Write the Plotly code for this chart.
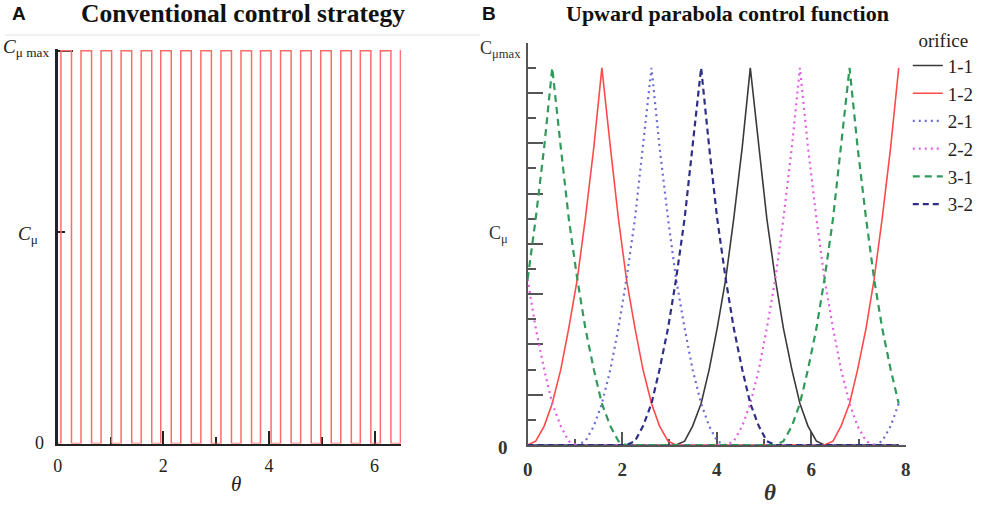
import plotly.graph_objects as go

W, H = 989, 506

# ---- panel A: conventional on/off control (pulse edges)
pulse_rise = [0.06, 0.44, 0.82, 1.20, 1.58, 1.95, 2.33, 2.71, 3.09, 3.47,
              3.84, 4.22, 4.60, 4.98, 5.36, 5.73, 6.11, 6.49]
pulse_fall = [0.26, 0.64, 1.02, 1.40, 1.78, 2.15, 2.53, 2.91, 3.29, 3.67,
              4.04, 4.42, 4.80, 5.18, 5.56, 5.93, 6.31]
pulse_on = 1.0
cmu_level = 0.538  # where the plain C_mu tick sits on the A axis

# ---- panel B: upward parabola control functions
theta = [0.00, 0.17, 0.35, 0.52, 0.70, 0.87, 1.05, 1.22, 1.40, 1.57,
         1.75, 1.92, 2.09, 2.27, 2.44, 2.62, 2.79, 2.97, 3.14, 3.32,
         3.49, 3.67, 3.84, 4.01, 4.19, 4.36, 4.54, 4.71, 4.89, 5.06,
         5.24, 5.41, 5.59, 5.76, 5.93, 6.11, 6.28, 6.46, 6.63, 6.81,
         6.98, 7.16, 7.33, 7.50, 7.68, 7.85]

orifice_1_1 = [0] * 18 + [0, .01, .05, .11, .20, .31, .44, .60, .79, 1.00,
                          .79, .60, .44, .31, .20, .11, .05, .01, 0] + [0] * 9
orifice_1_2 = [0, .01, .05, .11, .20, .31, .44, .60, .79, 1.00,
               .79, .60, .44, .31, .20, .11, .05, .01, 0] + [0] * 17 + \
              [0, .01, .05, .11, .20, .31, .44, .60, .79, 1.00]
orifice_2_1 = [0] * 6 + [0, .01, .05, .11, .20, .31, .44, .60, .79, 1.00,
                         .79, .60, .44, .31, .20, .11, .05, .01, 0] + \
              [0] * 17 + [0, .01, .05, .11]
orifice_2_2 = [.44, .31, .20, .11, .05, .01, 0] + [0] * 17 + \
              [0, .01, .05, .11, .20, .31, .44, .60, .79, 1.00,
               .79, .60, .44, .31, .20, .11, .05, .01, 0] + [0] * 3
orifice_3_1 = [.44, .60, .79, 1.00, .79, .60, .44, .31, .20, .11, .05, .01, 0] + \
              [0] * 17 + [0, .01, .05, .11, .20, .31, .44, .60, .79, 1.00,
                          .79, .60, .44, .31, .20, .11]
orifice_3_2 = [0] * 12 + [0, .01, .05, .11, .20, .31, .44, .60, .79, 1.00,
                          .79, .60, .44, .31, .20, .11, .05, .01, 0] + [0] * 15

series_names = ['1-1', '1-2', '2-1', '2-2', '3-1', '3-2']
series_values = [orifice_1_1, orifice_1_2, orifice_2_1, orifice_2_2, orifice_3_1, orifice_3_2]
series_colors = ['#3a3a3a', '#ff4a4a', '#6b6bd6', '#e35ee3', '#2f9a5a', '#2e2e86']
series_dash = ['solid', 'solid', '2px,4px', '2px,4px', '7px,5px', '6px,4px']
series_width = [1.6, 1.6, 2.2, 2.2, 2.2, 2.2]

SERIF = 'Liberation Serif'
SANS = 'Liberation Sans'


def px_x(x):
    return x / W


def px_y(y):
    return 1 - y / H


fig = go.Figure()

# square wave for panel A
sx, sy = [0.0], [0.0]
for i, r in enumerate(pulse_rise):
    sx += [r, r]
    sy += [0.0, pulse_on]
    if i < len(pulse_fall):
        sx += [pulse_fall[i], pulse_fall[i]]
        sy += [pulse_on, 0.0]
    else:
        sx.append(6.6)
        sy.append(pulse_on)

fig.add_trace(go.Scatter(x=sx, y=sy, mode='lines', showlegend=False,
                         line=dict(color='#ff6b6b', width=1.5),
                         xaxis='x', yaxis='y'))

for name, vals, col, dash, lw in zip(series_names, series_values, series_colors,
                                     series_dash, series_width):
    fig.add_trace(go.Scatter(x=theta, y=vals, mode='lines', name=name,
                             line=dict(color=col, dash=dash, width=lw),
                             xaxis='x2', yaxis='y2'))

axis_common = dict(showgrid=False, zeroline=False, showline=True, ticks='inside',
                   layer='below traces', fixedrange=True)

fig.update_layout(
    width=W, height=H,
    margin=dict(l=0, r=0, t=0, b=0),
    paper_bgcolor='white', plot_bgcolor='white',
    xaxis=dict(axis_common, domain=[px_x(53.3), px_x(400)], range=[0, 6.5],
               linecolor='#222', linewidth=2,
               tickvals=[0, 2, 4, 6], ticklen=13, tickwidth=2, tickcolor='#222',
               minor=dict(tickmode='array', tickvals=[1, 3, 5], ticks='inside',
                          ticklen=7, tickwidth=2, tickcolor='#222'),
               tickfont=dict(family=SERIF, size=18, color='#222'),
               ticklabelstandoff=5, anchor='y'),
    yaxis=dict(axis_common, domain=[px_y(443.5), px_y(48.7)], range=[0, 1.005],
               linecolor='#222', linewidth=2.5,
               tickvals=[0, 1], ticklen=15, tickwidth=2, tickcolor='#222',
               showticklabels=False,
               minor=dict(tickmode='array', tickvals=[cmu_level], ticks='inside',
                          ticklen=7, tickwidth=2, tickcolor='#222'),
               anchor='x'),
    xaxis2=dict(axis_common, domain=[px_x(528), px_x(910)], range=[0, 8],
                linecolor='#555', linewidth=2,
                tickvals=[0, 2, 4, 6, 8], ticklen=13, tickwidth=2, tickcolor='#555',
                minor=dict(tickmode='array', tickvals=[1, 3, 5, 7], ticks='inside',
                           ticklen=6, tickwidth=2, tickcolor='#555'),
                tickfont=dict(family=SERIF, size=19, color='#333', weight='bold'),
                ticklabelstandoff=6, anchor='y2'),
    yaxis2=dict(axis_common, domain=[px_y(445), px_y(42.7)], range=[0, 16 / 15],
                linecolor='#555', linewidth=2,
                tickvals=[k / 15 for k in range(0, 17, 2)], ticklen=15, tickwidth=2,
                tickcolor='#555', showticklabels=False,
                minor=dict(tickmode='array', tickvals=[k / 15 for k in range(1, 17, 2)],
                           ticks='inside', ticklen=8, tickwidth=2, tickcolor='#555'),
                anchor='x2'),
    legend=dict(x=px_x(912), y=px_y(22), xanchor='left', yanchor='top',
                bgcolor='rgba(0,0,0,0)',
                font=dict(family=SERIF, size=19, color='#222'),
                title=dict(text='orifice', side='top center',
                           font=dict(family=SERIF, size=19, color='#222'))),
    shapes=[dict(type='line', xref='paper', yref='paper',
                 x0=0, x1=px_x(480), y0=px_y(35), y1=px_y(35),
                 line=dict(color='#e2e2e2', width=1))],
)

notes = [
    # (text, x px, y px, xanchor, font)
    ('A', 5, 14, 'left', dict(family=SANS, size=19, color='#111', weight='bold')),
    ('B', 480, 14, 'left', dict(family=SANS, size=19, color='#111', weight='bold')),
    ('Conventional control strategy', 240, 14, 'center',
     dict(family=SERIF, size=25.5, color='#111', weight='bold')),
    ('Upward parabola control function', 730, 14, 'center',
     dict(family=SERIF, size=22, color='#111', weight='bold')),
    ('<i>θ</i>', 233, 484, 'center', dict(family=SERIF, size=21, color='#222')),
    ('<i>θ</i>', 773, 492, 'center', dict(family=SERIF, size=23, color='#333', weight='bold')),
    ('<i>C</i><sub>μ max</sub>', 46, 48, 'right', dict(family=SERIF, size=19, color='#222')),
    ('<i>C</i><sub>μ</sub>', 35, 235, 'right', dict(family=SERIF, size=19, color='#222')),
    ('0', 41, 443, 'right', dict(family=SERIF, size=18, color='#222')),
    ('C<sub>μmax</sub>', 523, 50, 'right', dict(family=SERIF, size=18, color='#333')),
    ('C<sub>μ</sub>', 510, 234, 'right', dict(family=SERIF, size=18, color='#333')),
    ('0', 510, 447, 'right', dict(family=SERIF, size=19, color='#333', weight='bold')),
]
for text, x, y, xa, font in notes:
    fig.add_annotation(text=text, x=px_x(x), y=px_y(y), xref='paper', yref='paper',
                       xanchor=xa, yanchor='middle', showarrow=False, font=font)

# drop the browser's default body margin so the figure fills the window
fig.write_html('out.html', config={'displayModeBar': False},
               post_script="document.body.style.margin = '0';")
